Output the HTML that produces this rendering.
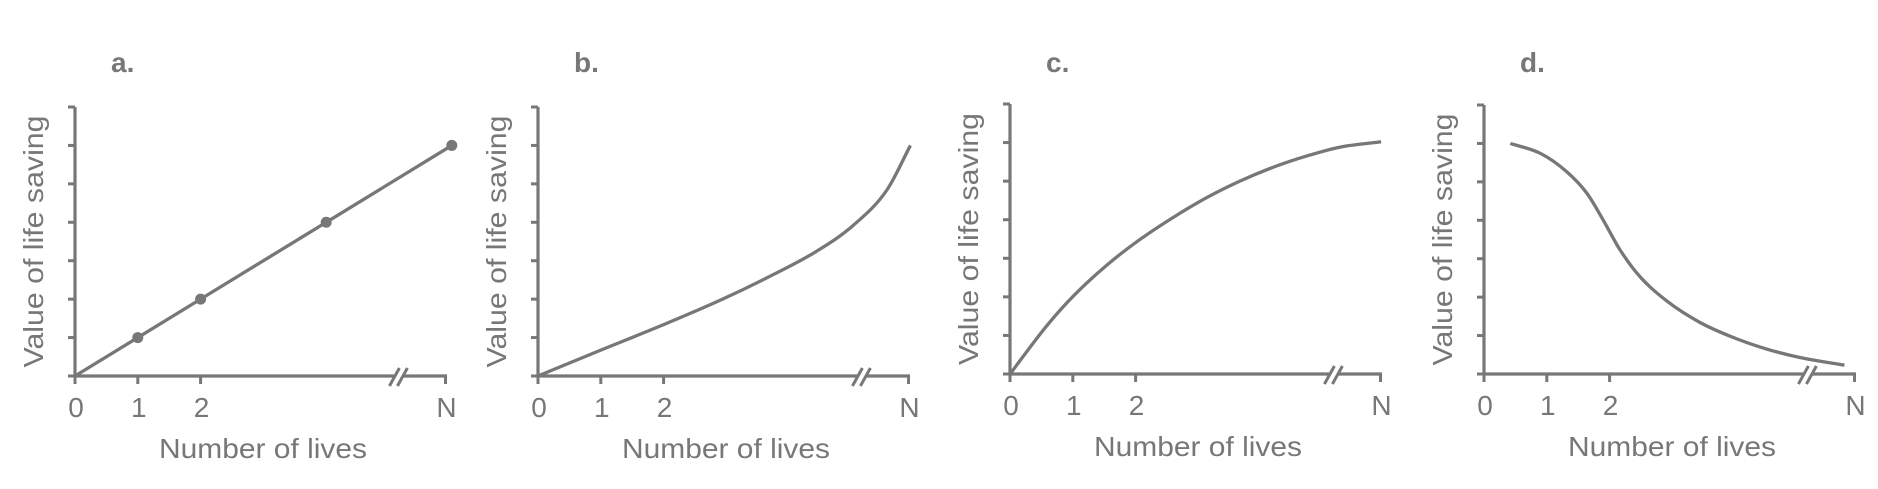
<!DOCTYPE html>
<html><head><meta charset="utf-8"><style>
html,body{margin:0;padding:0;background:#fff;}
svg{display:block;}
text{font-family:"Liberation Sans",sans-serif;fill:#777;}
</style></head><body>
<svg id="fig" width="1878" height="489" viewBox="0 0 1878 489" xmlns="http://www.w3.org/2000/svg"></svg>
<script>
// Data (x in "lives" units, where N sits at ~5.9; y in tick units 0..7)
const panelLabels = ["a.", "b.", "c.", "d."];
const xTickLabels = ["0", "1", "2", "N"];
const xTickValues = [0, 1, 2, 5.9];
const yTickValues = [0, 1, 2, 3, 4, 5, 6, 7];
const seriesA_x = [0, 1, 2, 4.0, 6.0];
const seriesA_y = [0, 1, 2, 4, 6];
const seriesB_x = [0, 0.98, 1.99, 2.9, 3.7, 4.44, 5.02, 5.56, 5.93];
const seriesB_y = [0, 0.66, 1.33, 1.97, 2.6, 3.25, 3.92, 4.85, 6.0];
const seriesC_x = [0, 0.59, 1.02, 1.54, 2.02, 2.6, 3.13, 3.66, 4.19, 4.72, 5.25, 5.91];
const seriesC_y = [0, 1.26, 2.04, 2.82, 3.43, 4.06, 4.57, 5.0, 5.36, 5.65, 5.88, 6.02];
const seriesD_x = [0.42, 0.9, 1.32, 1.64, 1.9, 2.17, 2.49, 2.91, 3.44, 3.97, 4.5, 5.03, 5.74];
const seriesD_y = [6.0, 5.74, 5.26, 4.7, 4.0, 3.22, 2.52, 1.9, 1.34, 0.95, 0.65, 0.43, 0.23];
const breakAt = 5.15;

const panels = [
  {ox:75, oy:376, top:107, sx:[seriesA_x], sy:[seriesA_y], dots:true},
  {ox:538, oy:376, top:107, sx:[seriesB_x], sy:[seriesB_y]},
  {ox:1010, oy:374, top:104, sx:[seriesC_x], sy:[seriesC_y]},
  {ox:1484, oy:374, top:105, sx:[seriesD_x], sy:[seriesD_y]}
];
const NS="http://www.w3.org/2000/svg";
const svg=document.getElementById('fig');
const C="#777";
function mk(tag,attrs,parent){const e=document.createElementNS(NS,tag);for(const k in attrs)e.setAttribute(k,attrs[k]);(parent||svg).appendChild(e);return e;}
function monotonePath(xs,ys,X,Y){
  const n=xs.length,d=[],m=new Array(n);
  for(let i=0;i<n-1;i++)d.push((ys[i+1]-ys[i])/(xs[i+1]-xs[i]));
  m[0]=d[0];m[n-1]=d[n-2];
  for(let i=1;i<n-1;i++){m[i]=(d[i-1]*d[i]<=0)?0:(d[i-1]+d[i])/2;}
  for(let i=0;i<n-1;i++){
    if(d[i]===0){m[i]=0;m[i+1]=0;continue;}
    const a=m[i]/d[i],b=m[i+1]/d[i],s=a*a+b*b;
    if(s>9){const t=3/Math.sqrt(s);m[i]=t*a*d[i];m[i+1]=t*b*d[i];}
  }
  let path="M"+X(xs[0])+","+Y(ys[0]);
  for(let i=0;i<n-1;i++){
    const h=xs[i+1]-xs[i];
    path+=" C"+X(xs[i]+h/3)+","+Y(ys[i]+m[i]*h/3)+" "+X(xs[i+1]-h/3)+","+Y(ys[i+1]-m[i+1]*h/3)+" "+X(xs[i+1])+","+Y(ys[i+1]);
  }
  return path;
}
panels.forEach((p,pi)=>{
  const g=mk('g',{});
  
  
  const ux=62.8, uy=(p.oy-p.top)/7;
  const X=v=>p.ox+v*ux, Y=v=>p.oy-v*uy;
  const lab=mk('text',{x:p.ox+36,y:72,'font-size':28,'font-weight':'bold'},g);
  lab.textContent=panelLabels[pi];
  
  
  const ya=mk('line',{x1:p.ox,y1:p.top,x2:p.ox,y2:p.oy+1.5,stroke:C,'stroke-width':3.2},g);
  
  
  yTickValues.forEach(v=>{
    const t=mk('line',{x1:p.ox-7,y1:Y(v),x2:p.ox,y2:Y(v),stroke:C,'stroke-width':3},g);
    
    
  });
  const bx=X(breakAt);
  const xa=mk('path',{d:`M${p.ox} ${p.oy} H${bx-4} M${bx+5} ${p.oy} H${X(xTickValues[3])+1.5}`,stroke:C,'stroke-width':3.2,fill:'none'},g);
  
  
  const br=mk('path',{d:`M${bx-9} ${p.oy+10} L${bx+1} ${p.oy-8} M${bx-1} ${p.oy+10} L${bx+9} ${p.oy-8}`,stroke:C,'stroke-width':3,fill:'none'},g);
  
  
  xTickValues.forEach((v,i)=>{
    const t=mk('line',{x1:X(v),y1:p.oy,x2:X(v),y2:p.oy+8,stroke:C,'stroke-width':3},g);
    
    
    const tl=mk('text',{x:X(v)+1,y:p.oy+41,'font-size':28,'text-anchor':'middle'},g);
    tl.textContent=xTickLabels[i];
    
    
  });
  const xt=mk('text',{x:p.ox+188,y:p.oy+82,'font-size':28,'text-anchor':'middle',textLength:208,lengthAdjust:'spacingAndGlyphs'},g);
  xt.textContent="Number of lives";
  
  
  const cy=(p.top+p.oy)/2;
  const tx=p.ox-32;
  const yt=mk('text',{x:tx,y:cy,'font-size':28,'text-anchor':'middle',textLength:252,lengthAdjust:'spacingAndGlyphs',transform:`rotate(-90 ${tx} ${cy})`},g);
  yt.textContent="Value of life saving";
  
  
  p.sx.forEach((xs,si)=>{
    const ys=p.sy[si];
    const d=p.dots?("M"+xs.map((v,i)=>X(v)+","+Y(ys[i])).join(" L")):monotonePath(xs,ys,X,Y);
    const path=mk('path',{d:d,stroke:C,'stroke-width':3.3,fill:'none'},g);
    
    
    if(p.dots){
      xs.slice(1).forEach((v,i)=>{
        const c=mk('circle',{cx:X(v),cy:Y(ys[i+1]),r:5.5,fill:C},g);
        
        
      });
    }
  });
});
</script>
</body></html>
